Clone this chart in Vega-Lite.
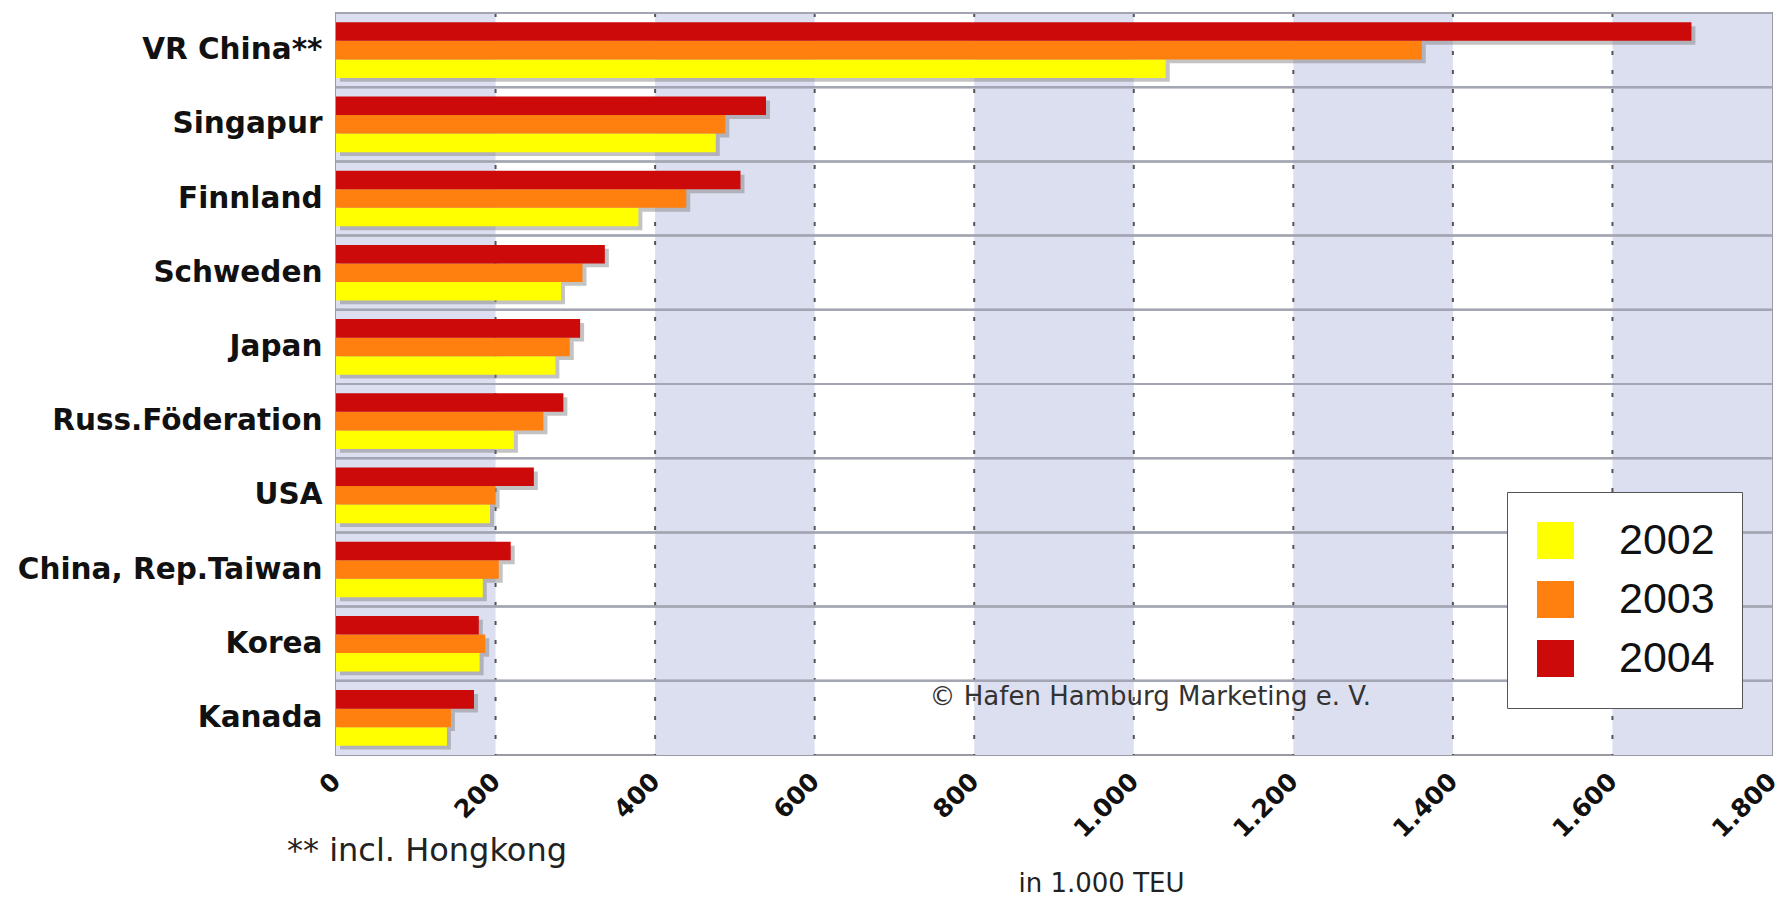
{
  "$schema": "https://vega.github.io/schema/vega-lite/v6.json",
  "width": 1436,
  "height": 742,
  "autosize": {"type": "none"},
  "padding": {"left": 336, "top": 13, "right": 9, "bottom": 147},
  "background": "white",
  "config": {"view": {"stroke": "#9a9aa4", "strokeWidth": 2, "fill": "white"}},
  "title": {"text": "** incl. Hongkong", "orient": "bottom", "anchor": "start", "frame": "group", "dx": -49, "offset": -60, "font": "DejaVu Sans", "fontSize": 32, "fontWeight": "normal", "color": "#222"},
  "datasets": {
    "ports": [
      {"country": "VR China**", "year": "2002", "value": 1040},
      {"country": "VR China**", "year": "2003", "value": 1361},
      {"country": "VR China**", "year": "2004", "value": 1699},
      {"country": "Singapur", "year": "2002", "value": 476},
      {"country": "Singapur", "year": "2003", "value": 488},
      {"country": "Singapur", "year": "2004", "value": 539},
      {"country": "Finnland", "year": "2002", "value": 379},
      {"country": "Finnland", "year": "2003", "value": 439},
      {"country": "Finnland", "year": "2004", "value": 507},
      {"country": "Schweden", "year": "2002", "value": 282},
      {"country": "Schweden", "year": "2003", "value": 309},
      {"country": "Schweden", "year": "2004", "value": 337},
      {"country": "Japan", "year": "2002", "value": 275},
      {"country": "Japan", "year": "2003", "value": 293},
      {"country": "Japan", "year": "2004", "value": 306},
      {"country": "Russ.Föderation", "year": "2002", "value": 223},
      {"country": "Russ.Föderation", "year": "2003", "value": 260},
      {"country": "Russ.Föderation", "year": "2004", "value": 285},
      {"country": "USA", "year": "2002", "value": 193},
      {"country": "USA", "year": "2003", "value": 200},
      {"country": "USA", "year": "2004", "value": 248},
      {"country": "China, Rep.Taiwan", "year": "2002", "value": 184},
      {"country": "China, Rep.Taiwan", "year": "2003", "value": 204},
      {"country": "China, Rep.Taiwan", "year": "2004", "value": 219},
      {"country": "Korea", "year": "2002", "value": 180},
      {"country": "Korea", "year": "2003", "value": 187},
      {"country": "Korea", "year": "2004", "value": 179},
      {"country": "Kanada", "year": "2002", "value": 139},
      {"country": "Kanada", "year": "2003", "value": 144},
      {"country": "Kanada", "year": "2004", "value": 173}
    ],
    "stripes": [
      {"from": 0, "to": 200},
      {"from": 400, "to": 600},
      {"from": 800, "to": 1000},
      {"from": 1200, "to": 1400},
      {"from": 1600, "to": 1800}
    ],
    "grid": [
      {"v": 200}, {"v": 400}, {"v": 600}, {"v": 800},
      {"v": 1000}, {"v": 1200}, {"v": 1400}, {"v": 1600}
    ]
  },
  "resolve": {"scale": {"yOffset": "independent"}},
  "layer": [
    {
      "data": {"name": "stripes"},
      "mark": {"type": "rect", "color": "#dcdff0"},
      "encoding": {
        "x": {
          "field": "from", "type": "quantitative", "title": "in 1.000 TEU",
          "scale": {"domain": [0, 1800], "nice": false, "zero": true},
          "axis": {
            "title": "in 1.000 TEU",
            "titleFont": "DejaVu Sans", "titleFontSize": 26, "titleFontWeight": "normal", "titleColor": "#222",
            "titleX": 765, "titleY": 128, "titleBaseline": "middle", "titleAlign": "center",
            "values": [0, 200, 400, 600, 800, 1000, 1200, 1400, 1600, 1800],
            "labelExpr": "replace(format(datum.value, ','), ',', '.')",
            "labelAngle": -45, "labelAlign": "right", "labelBaseline": "middle",
            "labelFont": "DejaVu Sans", "labelFontWeight": "bold", "labelFontSize": 25, "labelColor": "#111",
            "labelPadding": 22, "labelFlush": false, "labelOverlap": false, "labelBound": false,
            "domain": false, "ticks": false, "grid": false
          }
        },
        "x2": {"field": "to"}
      }
    },
    {
      "data": {"name": "grid"},
      "mark": {"type": "rule", "color": "#555555", "strokeWidth": 2, "strokeDash": [4, 15]},
      "encoding": {"x": {"field": "v", "type": "quantitative", "title": "in 1.000 TEU"}}
    },
    {
      "data": {"name": "ports"},
      "mark": {"type": "rule", "color": "#a3a5b3", "strokeWidth": 2},
      "encoding": {"y": {"field": "country", "type": "nominal", "sort": null, "bandPosition": 0, "title": null}}
    },
    {
      "data": {"name": "ports"},
      "mark": {"type": "bar", "color": "#7a7a7a", "opacity": 0.45, "xOffset": 4, "x2Offset": 4},
      "encoding": {
        "x": {"field": "value", "type": "quantitative", "title": "in 1.000 TEU"},
        "y": {"field": "country", "type": "nominal", "sort": null, "title": null},
        "yOffset": {"field": "year", "type": "nominal", "sort": "descending", "scale": {"paddingInner": 0, "paddingOuter": 0.5, "range": [4, 78]}}
      }
    },
    {
      "data": {"name": "ports"},
      "mark": {"type": "bar"},
      "encoding": {
        "x": {"field": "value", "type": "quantitative", "title": "in 1.000 TEU"},
        "y": {
          "field": "country", "type": "nominal", "sort": null, "title": null,
          "scale": {"paddingInner": 0, "paddingOuter": 0},
          "axis": {
            "title": null, "domain": false, "ticks": false, "grid": false,
            "labelFont": "DejaVu Sans", "labelFontWeight": "bold", "labelFontSize": 29.5, "labelColor": "#111",
            "labelPadding": 14, "labelLimit": 400
          }
        },
        "yOffset": {"field": "year", "type": "nominal", "sort": "descending", "scale": {"paddingInner": 0, "paddingOuter": 0.5}},
        "color": {
          "field": "year", "type": "nominal",
          "scale": {"domain": ["2002", "2003", "2004"], "range": ["#ffff00", "#ff7f0f", "#cc0a0a"]},
          "legend": {
            "title": null, "orient": "none", "legendX": 1171, "legendY": 479, "direction": "vertical",
            "fillColor": "white", "strokeColor": "#555555", "padding": 27,
            "symbolType": "square", "symbolSize": 1370, "symbolStrokeWidth": 0, "symbolOpacity": 1,
            "labelFont": "Liberation Sans", "labelFontSize": 43, "labelColor": "#111",
            "labelOffset": 42, "rowPadding": 15
          }
        }
      }
    },
    {
      "data": {"name": "ports"},
      "transform": [{"filter": "datum.country == 'Kanada' && datum.year == '2004'"}],
      "mark": {"type": "text", "align": "left", "baseline": "middle", "font": "DejaVu Sans", "fontSize": 26, "color": "#333"},
      "encoding": {
        "x": {"datum": 744, "type": "quantitative"},
        "y": {"field": "country", "type": "nominal", "sort": null, "bandPosition": 0.22, "title": null},
        "text": {"value": "© Hafen Hamburg Marketing e. V."}
      }
    }
  ]
}
